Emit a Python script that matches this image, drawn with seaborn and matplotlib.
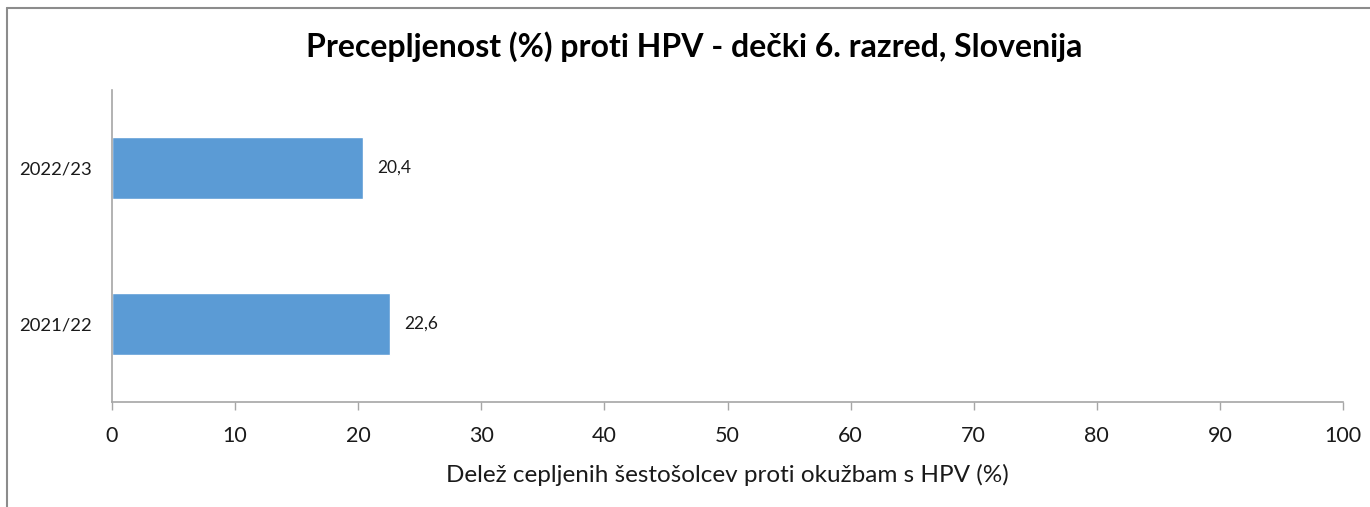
import matplotlib
matplotlib.use("Agg")
import matplotlib.pyplot as plt
import seaborn as sns
import pandas as pd
from matplotlib.lines import Line2D

categories = ["2022/23", "2021/22"]
values = [20.4, 22.6]
xticks = [0, 10, 20, 30, 40, 50, 60, 70, 80, 90, 100]
title = "Precepljenost (%) proti HPV - dečki 6. razred, Slovenija"
xlabel = "Delež cepljenih šestošolcev proti okužbam s HPV (%)"

sns.set_theme(style="white")
plt.rcParams['font.family'] = ['Lato', 'DejaVu Sans']

df = pd.DataFrame({"leto": categories, "vrednost": values})

fig = plt.figure(figsize=(13.7, 5.07), dpi=100)
ax = fig.add_axes([112/1370, 1-402/507, (1343-112)/1370, (402-90)/507])

sns.barplot(data=df, x="vrednost", y="leto", order=categories, color="#5B9BD5",
            saturation=1, width=0.4, ax=ax)

ax.set_xlim(0, 100)
ax.set_xticks(xticks)
ax.set_xticklabels([str(t) for t in xticks], fontsize=15.5, color="#1a1a1a")
ax.tick_params(axis="x", direction="out", length=6, width=1, color="#a6a6a6", pad=11, bottom=True)
ax.tick_params(axis="y", length=0, pad=14.5, labelsize=13.3, labelcolor="#1a1a1a")
ax.set_ylabel("")
ax.set_xlabel(xlabel, fontsize=17.5, color="#1a1a1a", labelpad=13)

for s in ["top", "right"]:
    ax.spines[s].set_visible(False)
for s in ["left", "bottom"]:
    ax.spines[s].set_color("#a6a6a6")
    ax.spines[s].set_linewidth(1.2)

for cont in ax.containers:
    ax.bar_label(cont, labels=[f"{v:.1f}".replace(".", ",") for v in values],
                 padding=10, fontsize=12.5, color="#1a1a1a")

fig.text(0.507, 1-47/507, title, ha="center", va="center", fontsize=23,
         fontweight="bold", color="#000000")

fig.add_artist(Line2D([7/1370, 1], [1-8/507, 1-8/507], color="#8c8c8c", lw=1.5, transform=fig.transFigure))
fig.add_artist(Line2D([7/1370, 7/1370], [0, 1-8/507], color="#8c8c8c", lw=1.5, transform=fig.transFigure))

fig.savefig("out.png", dpi=100)
